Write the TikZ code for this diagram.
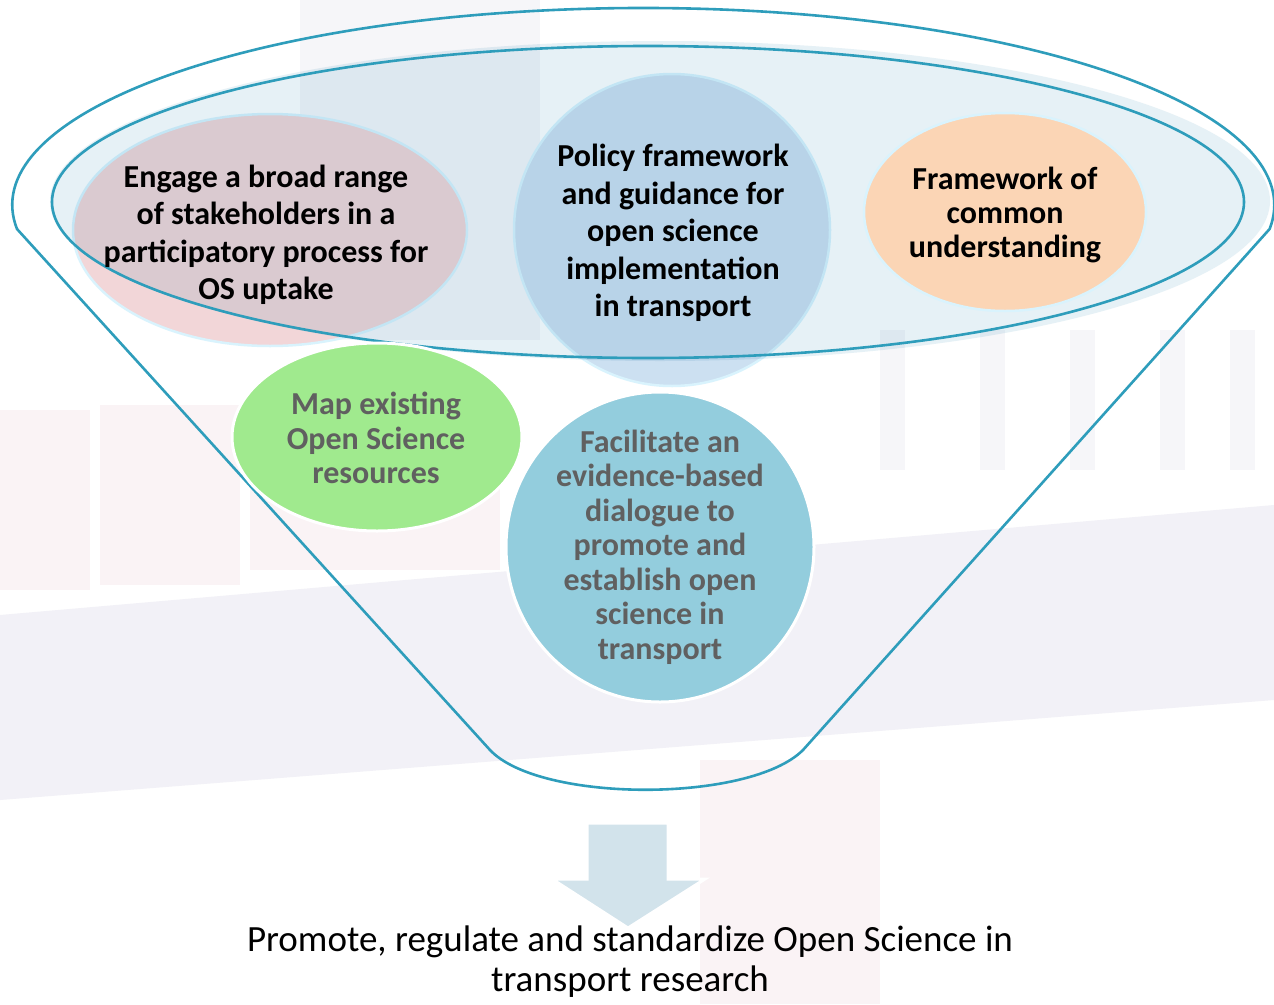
\documentclass[tikz,border=0pt]{standalone}
\usepackage{fontspec}
\setmainfont{Carlito}
\usetikzlibrary{shapes.geometric}
\definecolor{funnelc}{HTML}{2E9DBB}
\definecolor{ellfill}{HTML}{E6F1F6}
\definecolor{pinkc}{HTML}{F2D6D8}
\definecolor{policyc}{HTML}{CCE0F1}
\definecolor{orangec}{HTML}{FBD5B5}
\definecolor{greenc}{HTML}{A0EA8E}
\definecolor{tealc}{HTML}{93CDDD}
\definecolor{arrowc}{HTML}{D2E3EB}
\definecolor{greytext}{HTML}{606060}
\definecolor{bglav}{HTML}{F2F1F7}
\definecolor{bgpink}{HTML}{FAF3F5}
\definecolor{bggrey}{HTML}{F6F6F9}
\begin{document}
\begin{tikzpicture}[x=1pt,y=1pt,
  blob/.style={ellipse, inner sep=0pt, draw=white, line width=3pt},
  softblob/.style={ellipse, inner sep=0pt, draw=white!85!cyan, line width=2.5pt},
  blobtext/.style={align=center, inner sep=0pt, font=\fontsize{32}{37.5}\selectfont\bfseries},
  lowtext/.style={align=center, inner sep=0pt, text=greytext, font=\fontsize{32}{34.5}\selectfont\bfseries},
  funnelline/.style={draw=funnelc, line width=2.6pt, line join=round},
]
\useasboundingbox (0,0) rectangle (1274,-1004);
\fill[white] (0,0) rectangle (1274,-1004);
% faint background
\fill[bggrey] (300,0) rectangle (540,-340);
\fill[bgpink] (0,-410) rectangle (90,-590);
\fill[bgpink] (100,-405) rectangle (240,-585);
\fill[bgpink] (250,-400) rectangle (500,-570);
\fill[bglav] (0,-615) -- (1274,-505) -- (1274,-700) -- (0,-800) -- cycle;
\fill[bgpink] (700,-760) rectangle (880,-1004);
\foreach \xx in {880,980,1070,1160,1230}
  \fill[bggrey] (\xx,-330) rectangle (\xx+25,-470);
% circles under the translucent ellipse
\node[softblob, fill=pinkc, minimum width=394, minimum height=232] (pinkbg) at (270,-230) {};
\node[softblob, fill=policyc, minimum width=316, minimum height=312] (policybg) at (672,-230) {};
% inner ellipse
\fill[ellfill, blend mode=multiply] (660,-201) ellipse[x radius=610, y radius=160];
\draw[funnelline] (648,-202) ellipse[x radius=596, y radius=156];
% funnel outline
\draw[funnelline] (17,-229) arc[start angle=187, end angle=-7, x radius=631, y radius=197]
  -- (803,-750) .. controls (750,-803) and (540,-803) .. (490,-750) -- cycle;
% circles on top
\node[softblob, fill=orangec, minimum width=282, minimum height=198] (orangebg) at (1005,-212) {};
\node[blob, fill=greenc, minimum width=290, minimum height=188] (greenbg) at (377,-437) {};
\node[blob, fill=tealc, minimum width=308, minimum height=310] (tealbg) at (660,-547) {};
% texts
\node[blobtext] (engage) at (266,-235) {Engage a broad range\\of stakeholders in a\\participatory process for\\OS uptake};
\node[blobtext] (policy) at (673,-233) {Policy framework\\and guidance for\\open science\\implementation\\in transport};
\node[blobtext, font=\fontsize{32}{34}\selectfont\bfseries] (common) at (1005,-215) {Framework of\\common\\understanding};
\node[lowtext] (mapos) at (376,-438) {Map existing\\Open Science\\resources};
\node[lowtext] (dialogue) at (660,-547) {Facilitate an\\evidence-based\\dialogue to\\promote and\\establish open\\science in\\transport};
% arrow
\coordinate (arrtop) at (628,-823);
\coordinate (arrtip) at (628,-928);
\filldraw[fill=arrowc, draw=white, line width=3pt, line join=miter]
  (587,-823) -- (668,-823) -- (668,-879) -- (705,-879) -- (arrtip) -- (552,-879) -- (587,-879) -- cycle;
\node[align=center, inner sep=0pt, font=\fontsize{37}{40}\selectfont] (goal) at (630,-962)
  {Promote, regulate and standardize Open Science in\\transport research};
\end{tikzpicture}
\end{document}
